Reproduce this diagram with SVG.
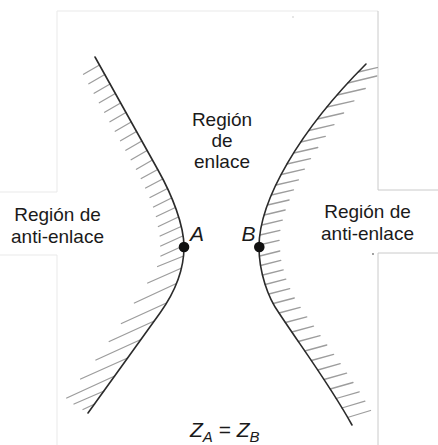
<svg xmlns="http://www.w3.org/2000/svg" width="438" height="445" viewBox="0 0 438 445">
<style>
.frame{fill:none;stroke-width:1}
.curve{fill:none;stroke:#2b2b2b;stroke-width:1.6;stroke-linecap:round;stroke-linejoin:round}
.hatch{fill:none;stroke:#9d9d9d;stroke-width:1.3;stroke-linecap:round}
.lbl{font-family:"Liberation Sans",Arial,Helvetica,sans-serif;font-size:19px;fill:#1a1a1a;text-anchor:middle}
.pt{font-family:"Liberation Sans",Arial,Helvetica,sans-serif;font-size:21px;font-style:italic;fill:#1a1a1a}
.dot{fill:#111}
</style>
<defs>
<clipPath id="fig"><rect x="57" y="11" width="321" height="434"/></clipPath>
</defs>
<rect width="438" height="445" fill="#fff"/>
<g id="frame">
<path class="frame" stroke="#e9e9e9" d="M57,11H378M57,11V192M0,192H57M0,255H57M57,255V445"/>
<path class="frame" stroke="#cacaca" d="M378,11V190H438M438,253H378V445"/>
<circle cx="373" cy="254" r="0.9" fill="#777"/>
<circle cx="293" cy="17" r="0.7" fill="#bbb"/>
</g>
<g id="connectors" clip-path="url(#fig)">
<g id="curve-left">
<path class="hatch" d="M99.5,65L83.5,74.2M104.8,74.5L88.8,83.7M110.1,84L94.1,93.2M115.3,93.5L99.3,102.7M120.6,103L104.6,112.2M125.9,112.5L109.9,121.7M131.2,122L115.2,131.2M136.5,131.5L120.5,140.7M141.8,141L125.8,150.2M147.1,150.5L131.1,159.7M152.4,160L136.4,169.2M157.7,169.5L141.2,178.5M162.6,179L145.6,188M167.5,188.5L150,197.5M171.5,198L153.5,207M175.4,207.5L156.4,216.5M178.4,217L158.4,226.5M181.1,226.5L160.1,236M182.7,236L160.7,246M183.9,245.5L160.9,256"/>
<path class="hatch" d="M183.6,256L157.6,266.5M181.7,268L147.7,283M176.4,283.5L134.4,303M166.4,303L121.4,323.5M154.2,321L109.2,341.5M140.9,339.5L95.9,360M127.6,358L80.6,379M114.7,376L66.7,398M104,391L74,404M94.7,404L83,409.5"/>
<path class="curve" d="M95,57L158,170C172,195 184,225 184,247C184,270 175,292 160,313L88,413"/>
</g>
<g id="curve-right">
<path class="hatch" d="M358.4,72L388.4,65M347.8,83L376.8,76M337.3,95L365.3,88.5M327,107L354,100.8M317.6,119L343.6,113M309,130.5L334,124.7M300.8,142L325.3,136.4M293.8,153L317.8,147.5M287,164L310.5,158.6M281.4,174.5L304.4,169.2M276,185L298.5,179.8M271.5,195L293.5,189.9M267.6,205L289.1,200M264.2,215L285.2,210M261.8,225L282.3,220.2M260,235L280,230.3M259.1,245L279.1,240.4"/>
<path class="hatch" d="M259.8,256L279.8,251M260.6,265.5L280.8,260.4M262.8,275L283.2,269.8M265.2,284.5L285.8,279.2M268.9,294L289.7,288.6M273.3,303.5L294.3,298M279,313L300.2,307.4M285.4,322.5L306.8,316.8M291.9,332L313.5,326.2M298.3,341.5L320.1,335.6M304.8,351L326.8,345M311.4,360.5L333.6,354.3M317.8,370L340.2,363.7M324,379.5L346.6,373.1M330.2,389L353,382.5M336.2,398.5L359.2,391.8M341.9,408L364.9,401.1M347.5,417.5L370.5,410.5"/>
<path class="curve" d="M366,64C300,130 259,200 259,247C259,272 268,298 279,313C300,345 330,385 352,425"/>
</g>
</g>
<g id="point-A">
<circle class="dot" cx="184" cy="247" r="5.3"/>
<text class="pt" x="190" y="240.5">A</text>
</g>
<g id="point-B">
<circle class="dot" cx="259.3" cy="247" r="5.3"/>
<text class="pt" x="241.5" y="240.5">B</text>
</g>
<g id="region-bonding">
<text class="lbl" x="222" y="126">Región</text>
<text class="lbl" x="222" y="147">de</text>
<text class="lbl" x="222" y="168">enlace</text>
</g>
<g id="region-antibonding-left">
<text class="lbl" x="57.5" y="221">Región de</text>
<text class="lbl" x="57.5" y="243">anti-enlace</text>
</g>
<g id="region-antibonding-right">
<text class="lbl" x="367.5" y="218">Región de</text>
<text class="lbl" x="367.5" y="240">anti-enlace</text>
</g>
<g id="equation">
<text class="pt" x="190" y="437" font-size="22">Z<tspan font-size="15" dy="5">A</tspan><tspan dy="-5" font-style="normal"> = </tspan>Z<tspan font-size="15" dy="5">B</tspan></text>
</g>
</svg>
